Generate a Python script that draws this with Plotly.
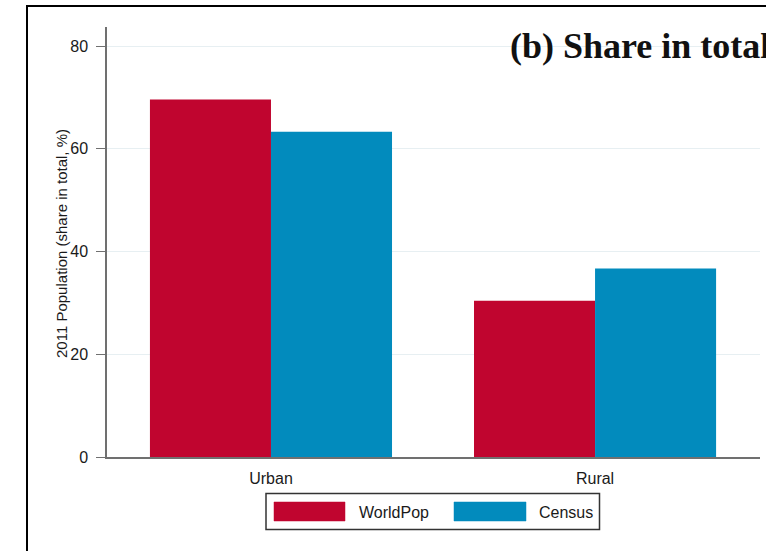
import plotly.graph_objects as go

# Population shares, 2011
categories = ["Urban", "Rural"]
series_names = ["WorldPop", "Census"]
worldpop = [69.6, 30.4]
census = [63.3, 36.7]
y_ticks = [0, 20, 40, 60, 80]
title_text = "(b) Share in total"
y_title = "2011 Population (share in total, %)"

RED = "#c0052f"
BLUE = "#028bbd"
SANS = "Liberation Sans Narrow, Arial Narrow, Liberation Sans, Arial, sans-serif"

W, H = 766, 551
L, R, T, B = 107, 6, 27, 94
PW, PH = W - L - R, H - T - B


def px(x):
    return (x - L) / PW


def py(y):
    return (H - B - y) / PH


fig = go.Figure()
for name, vals, col in zip(series_names, [worldpop, census], [RED, BLUE]):
    fig.add_trace(go.Bar(x=categories, y=vals, name=name,
                         marker=dict(color=col, line=dict(width=0)),
                         showlegend=False))

fig.update_layout(
    width=W, height=H,
    margin=dict(l=L, r=R, t=T, b=B),
    paper_bgcolor="white", plot_bgcolor="white",
    barmode="group", bargap=0.253, bargroupgap=0,
    font=dict(family=SANS, size=16, color="#1a1a1a"),
)

fig.update_xaxes(
    type="category", range=[-0.506, 1.509],
    showline=True, linecolor="#707070", linewidth=2,
    showgrid=False, ticks="", ticklabelstandoff=6,
    tickfont=dict(family=SANS, size=16, color="#1a1a1a"),
)
fig.update_yaxes(
    range=[0, 83.7], tickvals=y_ticks,
    showline=True, linecolor="#707070", linewidth=1.5,
    ticks="outside", ticklen=9, tickwidth=1.2, tickcolor="#707070",
    ticklabelstandoff=5,
    showgrid=True, gridcolor="#e7eff2", gridwidth=1,
    zeroline=False,
    tickfont=dict(family=SANS, size=16, color="#1a1a1a"),
)

shapes = []
# outer frame
shapes.append(dict(type="rect", xref="paper", yref="paper",
                   x0=px(27), y0=py(6), x1=px(800), y1=py(600),
                   line=dict(color="black", width=2), fillcolor="rgba(0,0,0,0)"))
# legend box and swatches
shapes.append(dict(type="rect", xref="paper", yref="paper",
                   x0=px(266), y0=py(493.5), x1=px(599.5), y1=py(529.5),
                   line=dict(color="#333333", width=1.5), fillcolor="white"))
for x0, x1, col in [(274, 345, RED), (454, 526, BLUE)]:
    shapes.append(dict(type="rect", xref="paper", yref="paper",
                       x0=px(x0), y0=py(502), x1=px(x1), y1=py(521),
                       line=dict(color=col, width=0.5), fillcolor=col))
fig.update_layout(shapes=shapes)

annotations = [
    dict(text=title_text, xref="paper", yref="paper", x=px(508), y=py(46),
         xanchor="left", yanchor="middle", showarrow=False,
         font=dict(family="Liberation Serif, Times New Roman, serif", size=36,
                   color="#111111", weight="bold")),
    dict(text=y_title, xref="paper", yref="paper", x=px(61), y=py(244),
         xanchor="center", yanchor="middle", textangle=-90, showarrow=False,
         font=dict(family=SANS, size=15, color="#1a1a1a")),
]
for xl, name in [(357, series_names[0]), (537, series_names[1])]:
    annotations.append(dict(text=name, xref="paper", yref="paper",
                            x=px(xl), y=py(512), xanchor="left", yanchor="middle",
                            showarrow=False,
                            font=dict(family=SANS, size=16, color="#1a1a1a")))
fig.update_layout(annotations=annotations)

fig.write_html("out.html")
